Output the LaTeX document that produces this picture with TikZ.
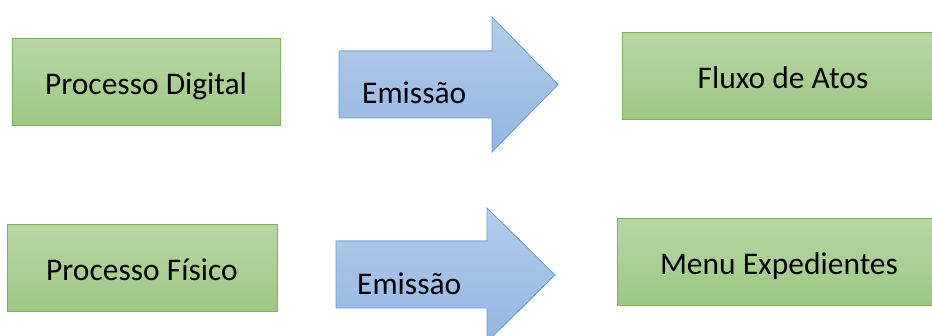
\documentclass[tikz,border=0pt]{standalone}
\usepackage{fontspec}
\setmainfont{Carlito}
\usepackage{tikz}
\usetikzlibrary{calc}
\definecolor{caixatopo}{HTML}{B8D6A4}
\definecolor{caixabase}{HTML}{9DC884}
\definecolor{caixalinha}{HTML}{7CB35B}
\definecolor{setatopo}{HTML}{B2CCEB}
\definecolor{setabase}{HTML}{94B6E1}
\definecolor{setalinha}{HTML}{6A9FD6}
\tikzset{
  caixa/.style={draw=caixalinha, line width=1pt, top color=caixatopo, bottom color=caixabase,
    minimum height=87pt, inner sep=0pt, text height=24pt, text depth=0pt,
    font=\fontsize{31.5}{36}\selectfont},
  seta/.style={draw=setalinha, line width=0.8pt, top color=setatopo, bottom color=setabase},
  rotulo/.style={anchor=base west, inner sep=0pt, font=\fontsize{31.5}{36}\selectfont}
}

\begin{document}
\begin{tikzpicture}[x=1pt,y=-1pt]
    \useasboundingbox (0,0) rectangle (932,336);

      \node[caixa, minimum width=268pt] (digital) at (146,82.5) {Processo Digital};
      \node[caixa, minimum width=322pt] (fluxo) at (783,76.5) {Fluxo de Atos};
      \node[caixa, minimum width=270pt] (fisico) at (142,268.5) {Processo Físico};
      \node[caixa, minimum width=324pt] (menu) at (779,262.5) {Menu Expedientes};

      \filldraw[seta](339,51)--(492,51)--(492,17)--(558,84.5)--(492,152)--(492,118)--(339,118)--cycle;
      \node[rotulo] (emissaoA) at (362,104) {Emissão};

      \filldraw[seta](336,241)--(487,241)--(487,208)--(555,275)--(487,342)--(487,308)--(336,308)--cycle;
      \node[rotulo] (emissaoB) at (357,295) {Emissão};
    \end{tikzpicture}
\end{document}
